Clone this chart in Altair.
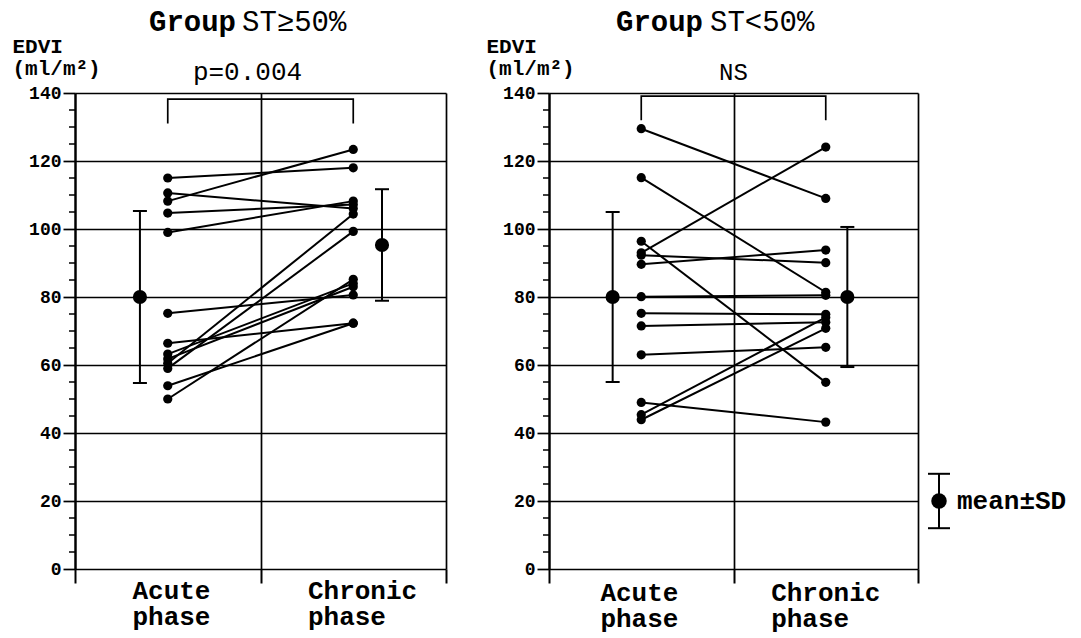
import altair as alt
import pandas as pd

FONT = "Liberation Mono"

# ---------------- data ----------------
left_acute = [115.0, 110.6, 108.2, 104.7, 99.0, 75.2, 66.4, 63.2, 61.8, 60.5, 59.0, 53.9, 50.0]
left_chronic = [118.0, 106.0, 123.4, 107.2, 108.2, 80.6, 72.3, 84.0, 83.0, 104.4, 99.3, 72.3, 85.2]
left_mean = [80.0, 95.3]
left_sd = [25.3, 16.4]

right_acute = [129.5, 115.1, 96.4, 93.0, 92.3, 89.6, 80.1, 75.2, 71.5, 63.0, 49.0, 45.4, 43.9]
right_chronic = [109.0, 81.4, 54.9, 124.1, 90.1, 93.8, 80.5, 74.9, 72.6, 65.2, 43.2, 74.0, 70.8]
right_mean = [80.0, 80.0]
right_sd = [25.0, 20.6]

legend_mean = [20.0]
legend_sd = [8.0]
legend_label = ["mean±SD"]

y_major = [0, 20, 40, 60, 80, 100, 120, 140]
y_minor = [5, 10, 15, 25, 30, 35, 45, 50, 55, 65, 70, 75, 85, 90, 95, 105, 110, 115, 125, 130, 135]
phase_line1 = ["Acute", "Chronic"]
phase_line2 = ["phase", "phase"]
y_title = ["EDVI", "(ml/m²)"]
group_word = "Group"
group_cond = ["ST≥50%", "ST<50%"]
p_texts = ["p=0.004", "NS"]

# ---------------- layout constants ----------------
X_ACUTE, X_CHRONIC = 0.5, 1.5
H = 476


def make_panel(acute, chronic, means, sds, mean_xs, cond, ptext, ptext_x, p_fs,
               label_centers, label_dys, width, bracket, title_px, legend=False):
    n = len(acute)
    xscale = alt.Scale(domain=[0, 2], nice=False, zero=False)
    yscale = alt.Scale(domain=[0, 140], nice=False)

    x_axis = alt.Axis(values=[0, 1, 2], labels=False, tickSize=14, tickWidth=2,
                      tickColor="black", grid=True, gridColor="black", gridWidth=1.7,
                      gridOpacity=1, domain=False, title=None)
    y_axis = alt.Axis(values=y_major, tickSize=12, tickWidth=1.7, tickColor="black",
                      grid=True, gridColor="black", gridWidth=1.7, gridOpacity=1,
                      domainColor="black", domainWidth=2.2,
                      labelFont=FONT, labelFontSize=18, labelFontWeight="bold",
                      labelColor="black", labelPadding=2,
                      title=y_title, titleAngle=0, titleAlign="left",
                      titleBaseline="alphabetic", titleX=-63, titleY=-41,
                      titleFont=FONT, titleFontSize=21, titleFontWeight="bold",
                      titleLineHeight=22, titleColor="black")

    lines_df = pd.DataFrame({
        "subj": list(range(n)) * 2,
        "x": [X_ACUTE] * n + [X_CHRONIC] * n,
        "y": list(acute) + list(chronic),
    })
    X = lambda f: alt.X(f, scale=xscale)
    Y = lambda f: alt.Y(f, scale=yscale)

    lines = alt.Chart(lines_df).mark_line(color="black", strokeWidth=2).encode(
        x=alt.X("x:Q", scale=xscale, axis=x_axis),
        y=alt.Y("y:Q", scale=yscale, axis=y_axis),
        detail="subj:N",
    )
    points = alt.Chart(lines_df).mark_circle(size=85, color="black", opacity=1).encode(
        x=X("x:Q"), y=Y("y:Q"))

    minor = alt.Chart(pd.DataFrame({"y": y_minor})).mark_rule(
        color="black", strokeWidth=1.5).encode(
        y=Y("y:Q"), x=alt.value(-6), x2=alt.value(0))

    mdf = pd.DataFrame({"x": mean_xs, "y": means,
                        "lo": [m - s for m, s in zip(means, sds)],
                        "hi": [m + s for m, s in zip(means, sds)]})
    err = alt.Chart(mdf).mark_rule(color="black", strokeWidth=2).encode(
        x=X("x:Q"), y=Y("lo:Q"), y2="hi:Q")
    caps_df = pd.DataFrame({"x": mean_xs * 2, "y": list(mdf["lo"]) + list(mdf["hi"])})
    caps = alt.Chart(caps_df).mark_tick(orient="horizontal", size=14, thickness=2,
                                        color="black", opacity=1).encode(
        x=X("x:Q"), y=Y("y:Q"))
    mdot = alt.Chart(mdf).mark_circle(size=200, color="black", opacity=1).encode(
        x=X("x:Q"), y=Y("y:Q"))

    bdf = pd.DataFrame({"x": [X_ACUTE, X_ACUTE, X_CHRONIC, X_CHRONIC],
                        "y": [bracket[0], bracket[1], bracket[1], bracket[0]],
                        "i": [0, 1, 2, 3]})
    br = alt.Chart(bdf).mark_line(color="black", strokeWidth=1.7).encode(
        x=X("x:Q"), y=Y("y:Q"), order="i:Q")

    ptxt = alt.Chart(pd.DataFrame({"x": [ptext_x], "y": [143.9], "t": [ptext]})).mark_text(
        font=FONT, fontSize=p_fs, color="black", baseline="alphabetic", align="center").encode(
        x=X("x:Q"), y=Y("y:Q"), text="t:N")

    fs_lab = 26
    lab_left = [c - (len(t) * 0.6 * fs_lab / 2) / width * 2
                for c, t in zip(label_centers, phase_line1)]
    lab_layers = []
    for texts, dy in zip([phase_line1, phase_line2], label_dys):
        lab_layers.append(
            alt.Chart(pd.DataFrame({"x": lab_left, "t": texts})).mark_text(
                font=FONT, fontSize=fs_lab, fontWeight="bold", color="black",
                align="left", baseline="alphabetic").encode(
                x=X("x:Q"), y=alt.value(H + dy), text="t:N"))

    t1 = alt.Chart(pd.DataFrame({"t": [group_word]})).mark_text(
        font=FONT, fontSize=29, fontWeight="bold", color="black", align="right",
        baseline="alphabetic").encode(
        x=alt.value(title_px[0]), y=alt.value(-62), text="t:N")
    t2 = alt.Chart(pd.DataFrame({"t": [cond]})).mark_text(
        font=FONT, fontSize=29, color="black", align="left",
        baseline="alphabetic").encode(
        x=alt.value(title_px[1]), y=alt.value(-62), text="t:N")

    layers = [lines, minor, br, err, caps, mdot, points, ptxt] + lab_layers + [t1, t2]

    if legend:
        ldf = pd.DataFrame({"y": legend_mean,
                            "lo": [m - s for m, s in zip(legend_mean, legend_sd)],
                            "hi": [m + s for m, s in zip(legend_mean, legend_sd)],
                            "t": legend_label})
        lx = width + 21
        lrule = alt.Chart(ldf).mark_rule(color="black", strokeWidth=2).encode(
            x=alt.value(lx), y=Y("lo:Q"), y2="hi:Q")
        lcap_df = pd.DataFrame({"y": list(ldf["lo"]) + list(ldf["hi"])})
        lcaps = alt.Chart(lcap_df).mark_tick(orient="horizontal", size=22, thickness=2,
                                             color="black", opacity=1).encode(
            x=alt.value(lx), y=Y("y:Q"))
        ldot = alt.Chart(ldf).mark_point(shape="circle", size=240, filled=True,
                                         color="black", opacity=1).encode(
            x=alt.value(lx), y=Y("y:Q"))
        ltxt = alt.Chart(ldf).mark_text(font=FONT, fontSize=26, fontWeight="bold",
                                        color="black", align="left",
                                        baseline="middle").encode(
            x=alt.value(lx + 18), y=Y("y:Q"), text="t:N")
        layers += [lrule, lcaps, ldot, ltxt]

    return alt.layer(*layers).properties(width=width, height=H)


left = make_panel(left_acute, left_chronic, left_mean, left_sd, [0.35, 1.655],
                  group_cond[0], p_texts[0], 0.93, 26, [0.52, 1.55], (30, 56), 371,
                  (131.0, 138.2), (161, 167))
right = make_panel(right_acute, right_chronic, right_mean, right_sd, [0.345, 1.617],
                   group_cond[1], p_texts[1], 1.0, 24, [0.49, 1.5], (32, 58), 369,
                   (132.0, 139.1), (154, 161), legend=True)

chart = alt.hconcat(left, right, spacing=39).configure_view(stroke=None).properties(
    padding={"left": 4, "top": 0, "right": 0, "bottom": 0})

chart.save("out.html", embed_options={"renderer": "svg", "actions": False})
